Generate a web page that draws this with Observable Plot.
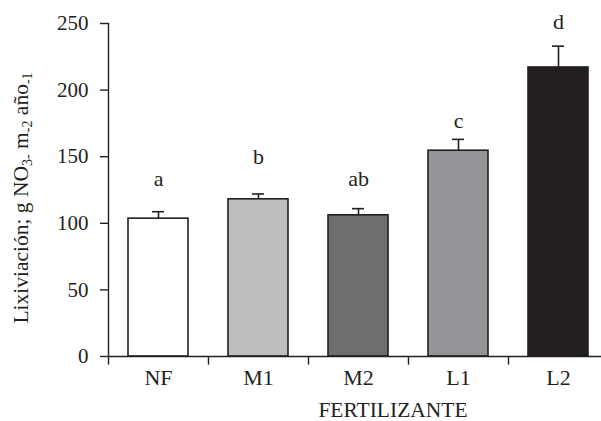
<!DOCTYPE html>
<html>
<head>
<meta charset="utf-8">
<script src="https://cdn.jsdelivr.net/npm/d3@7"></script>
<script src="https://cdn.jsdelivr.net/npm/@observablehq/plot@0.6"></script>
<style>
  html, body { margin: 0; padding: 0; background: #fff; }
  svg { font-family: "Liberation Serif", "Times New Roman", serif; }
</style>
</head>
<body>
<div id="chart"></div>
<script>
const categories = ["NF", "M1", "M2", "L1", "L2"];
const values = [103.5, 118, 106, 154.5, 217];
const upper = [108.7, 122, 111, 163, 233];
const letters = ["a", "b", "ab", "c", "d"];
const letterY = [133.6, 149.5, 133.6, 176.6, 251];
const fills = ["#ffffff", "#bcbec0", "#6d6e70", "#939598", "#231f20"];
const yTicks = [0, 50, 100, 150, 200, 250];

const data = categories.map((c, i) => ({cat: c, value: values[i], hi: upper[i], letter: letters[i], ly: letterY[i], fill: fills[i]}));
const ink = "#231f20";

const chart = Plot.plot({
  width: 601,
  height: 421,
  marginLeft: 108,
  marginRight: 0,
  marginTop: 23,
  marginBottom: 65,
  style: {fontFamily: "'Liberation Serif', 'Times New Roman', serif", fontSize: "21px", color: ink, background: "#fff"},
  x: {domain: categories, range: [108, 608], paddingInner: 0.4, paddingOuter: 0.2, axis: null},
  y: {domain: [0, 250], axis: null},
  marks: [
    Plot.barY(data, {x: "cat", y: "value", fill: d => d.fill, stroke: ink, strokeWidth: 1.6}),
    Plot.ruleX(data, {x: "cat", y1: "value", y2: "hi", stroke: ink, strokeWidth: 1.6}),
    Plot.tickY(data, {x: "cat", y: "hi", stroke: ink, strokeWidth: 1.6, insetLeft: 24, insetRight: 24}),
    Plot.text(data, {x: "cat", y: "ly", text: "letter", fontSize: 22, fill: ink}),
    Plot.ruleY([0], {stroke: ink, strokeWidth: 1.4}),
    Plot.frame({anchor: "left", stroke: ink, strokeWidth: 1.4}),
    Plot.ruleX(categories, {x: d => d, dx: -50, y1: 0, y2: -6.5, stroke: ink, strokeWidth: 1.4}),
    Plot.axisY(yTicks, {tickSize: 8, tickPadding: 12, fontSize: 21, stroke: ink, fill: ink, label: null, strokeWidth: 1.4}),
    Plot.axisX({tickSize: 0, tickPadding: 13, fontSize: 22, fill: ink, label: null}),
    Plot.text(["FERTILIZANTE"], {frameAnchor: "bottom", text: d => d, dx: 38, dy: 60, lineAnchor: "bottom", fontSize: 21.5, fill: ink})
  ]
});

const svg = d3.select(chart);
const lab = svg.append("text")
  .attr("transform", "translate(28,198) rotate(-90)")
  .attr("text-anchor", "middle")
  .attr("fill", ink)
  .attr("font-size", 21.5);
const parts = [
  ["Lixiviación; g NO", false],
  ["3-", true],
  [" m", false],
  ["-2", true],
  [" año", false],
  ["-1", true]
];
parts.forEach(([t, sub]) => {
  const ts = lab.append("tspan").text(t);
  if (sub) ts.attr("font-size", 14).attr("baseline-shift", "-4");
});

document.getElementById("chart").appendChild(chart);
</script>
</body>
</html>
